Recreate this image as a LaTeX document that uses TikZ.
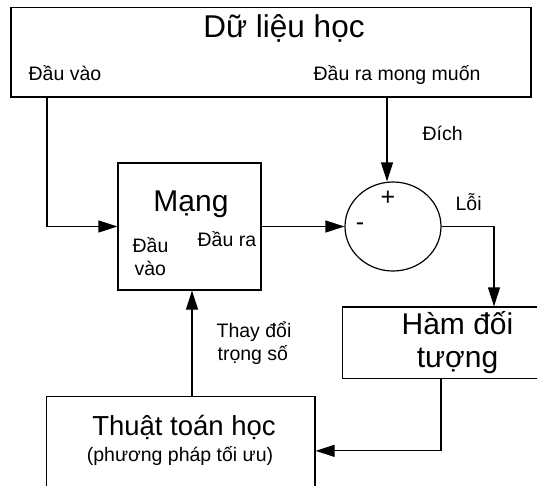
\documentclass[tikz,border=0pt]{standalone}
\usepackage{fontspec}
\setmainfont{Liberation Sans}
\usetikzlibrary{arrows.meta,shapes.geometric}
\begin{document}
\begin{tikzpicture}[x=1pt,y=-1pt,
  line width=1.2pt,
  box/.style={draw, rectangle, inner sep=0pt, line width=1.2pt},
  arr/.style={-{Triangle[length=19pt,width=12pt]}},
  small/.style={font=\fontsize{19.5}{23}\selectfont, inner sep=0pt},
  big/.style={font=\fontsize{30}{34}\selectfont, inner sep=0pt},
  sign/.style={font=\fontsize{25}{28}\selectfont, inner sep=0pt}]
\useasboundingbox (0,0) rectangle (537,485);
% boxes
\node[box, minimum width=520pt, minimum height=89.5pt] (data) at (271,52.25) {};
\node[box, minimum width=143pt, minimum height=127pt] (net) at (189.5,226.5) {};
\node[draw, ellipse, inner sep=0pt, minimum width=96pt, minimum height=89pt] (sum) at (393,226.5) {};
\node[box, minimum width=229.5pt, minimum height=71.5pt] (obj) at (457.25,342.75) {};
\node[box, minimum width=268.3pt, minimum height=108.3pt] (alg) at (180.85,450.85) {};
% texts
\node[big, anchor=base, font=\fontsize{31.5}{34}\selectfont] (t1) at (284,37) {Dữ liệu học};
\node[small, anchor=base west] (t2) at (28,80.5) {Đầu vào};
\node[small, anchor=base west] (t3) at (313,80.5) {Đầu ra mong muốn};
\node[small, anchor=base west] (t4) at (422,140) {Đích};
\node[small, anchor=base west] (t5) at (455,210) {Lỗi};
\node[sign] (plus) at (388,198) {+};
\node[sign] (minus) at (360,227) {-};
\node[big, anchor=base] (t6) at (191,211) {Mạng};
\node[small, anchor=base west] (t7) at (197,246) {Đầu ra};
\node[small, anchor=base west] (t8) at (132,252) {Đầu};
\node[small, anchor=base west] (t9) at (134,275) {vào};
\node[small, anchor=base west] (t10) at (216,337) {Thay đổi};
\node[small, anchor=base west] (t11) at (217,360) {trọng số};
\node[big, anchor=base] (t12) at (457.5,334) {Hàm đối};
\node[big, anchor=base] (t13) at (457.5,367) {tượng};
\node[big, anchor=base, font=\fontsize{27.5}{30}\selectfont] (t14) at (184,435) {Thuật toán học};
\node[small, anchor=base] (t15) at (180,461) {(phương pháp tối ưu)};
% connector x positions
\coordinate (inx) at (47,0);
\coordinate (dx) at (387,0);
\coordinate (ex) at (494,0);
\coordinate (ox) at (441,0);
\coordinate (fx) at (192,0);
% connectors
\draw[arr] (data.south -| inx) |- (net.west);
\draw[arr] (net.east) -- (sum.west);
\draw[arr] (data.south -| dx) -- (dx |- sum.north);
\draw[arr] (sum.east) -| (ex |- obj.north);
\draw[arr] (obj.south -| ox) |- (alg.east);
\draw[arr] (alg.north -| fx) -- (fx |- net.south);
\end{tikzpicture}
\end{document}
